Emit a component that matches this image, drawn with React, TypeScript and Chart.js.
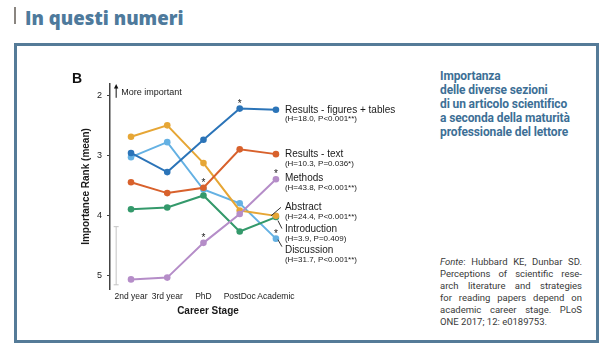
import React, { useEffect, useRef } from "react";
import { Chart, registerables } from "chart.js";

Chart.register(...registerables);

const categories = ["2nd year", "3rd year", "PhD", "PostDoc", "Academic"];
const seriesNames = [
  "Results - figures + tables",
  "Results - text",
  "Methods",
  "Abstract",
  "Introduction",
  "Discussion",
];
const statsLabels = [
  "(H=18.0, P<0.001**)",
  "(H=10.3, P=0.036*)",
  "(H=43.8, P<0.001**)",
  "(H=24.4, P<0.001**)",
  "(H=3.9, P=0.409)",
  "(H=31.7, P<0.001**)",
];
const resultsFigures = [2.95, 3.27, 2.73, 2.21, 2.23];
const resultsText = [3.44, 3.62, 3.53, 2.89, 2.97];
const methods = [5.06, 5.03, 4.45, 3.97, 3.39];
const abstractRank = [2.68, 2.49, 3.12, 3.91, 4.0];
const introduction = [3.89, 3.86, 3.66, 4.26, 4.02];
const discussion = [3.02, 2.77, 3.56, 3.79, 4.38];
const seriesValues = [resultsFigures, resultsText, methods, abstractRank, introduction, discussion];
const seriesColors = ["#2b74b8", "#d8612c", "#b58dc8", "#e6a635", "#34996b", "#64b1e3"];
const yTicks = [2, 3, 4, 5];
// [series, stage] pairs marked with an asterisk
const significant = [[0, 3], [1, 2], [2, 2], [2, 4], [5, 4]];
// rank at which each series label is written next to the Academic column
const labelRanks = [2.23, 2.97, 3.38, 3.85, 4.22, 4.58];
// reference error bar (ranks) and "More important" arrow (ranks)
const errorBarRange = [4.18, 5.15];
const arrowRange = [2.03, 1.8];

const citationLines = [
  "Perceptions of scientific rese-",
  "arch literature and strategies",
  "for reading papers depend on",
  "academic career stage. PLoS",
];

const FONT = '"Liberation Sans", Arial, sans-serif';

const annotPlugin = {
  id: "annot",
  afterDatasetsDraw(chart: any) {
    const ctx = chart.ctx;
    const xs = chart.scales.x;
    const ys = chart.scales.y;
    ctx.save();
    ctx.fillStyle = "#222";
    // asterisks
    ctx.font = `10px ${FONT}`;
    ctx.textAlign = "center";
    ctx.textBaseline = "alphabetic";
    significant.forEach(([s, p]) => {
      const x = xs.getPixelForValue(p);
      const y = ys.getPixelForValue(seriesValues[s][p]);
      ctx.fillText("*", x, y - 2);
    });
    // series labels
    const lx = xs.getPixelForValue(4) + 9;
    ctx.textAlign = "left";
    ctx.textBaseline = "middle";
    seriesNames.forEach((n, i) => {
      const y = ys.getPixelForValue(labelRanks[i]);
      ctx.fillStyle = "#1a1a1a";
      ctx.font = `10px ${FONT}`;
      ctx.fillText(n, lx, y);
      ctx.font = `8px ${FONT}`;
      ctx.fillText(statsLabels[i], lx, y + 9.5);
    });
    // leader lines
    ctx.strokeStyle = "#333";
    ctx.lineWidth = 1;
    const leaders: [number, number, number, number, number][] = [
      [3, -14, 9, -4, 0.5],
      [4, -7, -8.5, -3, -0.5],
      [5, -7, -11, -3, -4],
    ];
    leaders.forEach(([i, x1, y1, x2, y2]) => {
      const y = ys.getPixelForValue(labelRanks[i]);
      ctx.beginPath();
      ctx.moveTo(lx + x1, y + y1);
      ctx.lineTo(lx + x2, y + y2);
      ctx.stroke();
    });
    // error bar
    const ex = xs.getPixelForValue(-0.41);
    const ey1 = ys.getPixelForValue(errorBarRange[0]);
    const ey2 = ys.getPixelForValue(errorBarRange[1]);
    ctx.strokeStyle = "#c4c4c4";
    ctx.beginPath();
    ctx.moveTo(ex, ey1);
    ctx.lineTo(ex, ey2);
    ctx.moveTo(ex - 2.5, ey1);
    ctx.lineTo(ex + 2.5, ey1);
    ctx.moveTo(ex - 2.5, ey2);
    ctx.lineTo(ex + 2.5, ey2);
    ctx.stroke();
    // arrow
    const ay1 = ys.getPixelForValue(arrowRange[0]);
    const ay2 = ys.getPixelForValue(arrowRange[1]);
    ctx.strokeStyle = "#111";
    ctx.fillStyle = "#111";
    ctx.beginPath();
    ctx.moveTo(ex, ay1);
    ctx.lineTo(ex, ay2 + 3);
    ctx.stroke();
    ctx.beginPath();
    ctx.moveTo(ex, ay2);
    ctx.lineTo(ex - 2.2, ay2 + 4.5);
    ctx.lineTo(ex + 2.2, ay2 + 4.5);
    ctx.closePath();
    ctx.fill();
    ctx.font = `9px ${FONT}`;
    ctx.fillStyle = "#1a1a1a";
    ctx.textBaseline = "middle";
    ctx.fillText("More important", ex + 5, ys.getPixelForValue(1.95));
    ctx.restore();
  },
};

export default function App() {
  const ref = useRef<HTMLCanvasElement>(null);
  useEffect(() => {
    if (!ref.current) return;
    Chart.defaults.font.family = FONT;
    const chart = new Chart(ref.current, {
      type: "line",
      data: {
        datasets: seriesValues.map((vals, i) => ({
          label: seriesNames[i],
          data: vals.map((v, j) => ({ x: j, y: v })),
          borderColor: seriesColors[i],
          backgroundColor: seriesColors[i],
          pointBackgroundColor: seriesColors[i],
          pointBorderWidth: 0,
          pointRadius: 3.3,
          borderWidth: 2,
          tension: 0,
          clip: false as any,
        })),
      },
      options: {
        animation: false,
        responsive: false,
        devicePixelRatio: 1,
        layout: { padding: { left: 68, right: 124, top: 84, bottom: 42 } },
        plugins: { legend: { display: false }, tooltip: { enabled: false } },
        scales: {
          x: {
            type: "linear",
            min: -0.58,
            max: 4.83,
            afterBuildTicks: (s: any) => {
              s.ticks = categories.map((_, i) => ({ value: i }));
            },
            afterFit: (s: any) => {
              s.height = 32;
            },
            ticks: {
              autoSkip: false,
              maxRotation: 0,
              padding: 3,
              color: "#1a1a1a",
              font: { size: 8.5 },
              callback: (v: any) => categories[v as number] ?? "",
            },
            grid: { display: false, drawTicks: false },
            border: { display: false },
            title: {
              display: true,
              text: "Career Stage",
              color: "#1a1a1a",
              font: { size: 10, weight: "bold" },
              padding: { top: 4, bottom: 4 },
            },
          },
          y: {
            type: "linear",
            reverse: true,
            min: 1.8,
            max: 5.22,
            afterBuildTicks: (s: any) => {
              s.ticks = yTicks.map((v) => ({ value: v }));
            },
            afterFit: (s: any) => {
              s.width = 42;
            },
            ticks: { padding: 5, color: "#1a1a1a", font: { size: 9 } },
            grid: { drawOnChartArea: false, drawTicks: true, tickLength: 3, color: "#444" },
            border: { display: true, color: "#444", width: 1.5 },
            title: {
              display: true,
              text: "Importance Rank (mean)",
              color: "#1a1a1a",
              font: { size: 10, weight: "bold" },
              padding: { top: 12, bottom: 12 },
            },
          },
        },
      },
      plugins: [annotPlugin],
    });
    return () => chart.destroy();
  }, []);

  return (
    <div
      style={{
        position: "fixed",
        left: 0,
        top: 0,
        width: 616,
        height: 363,
        background: "#fff",
        overflow: "hidden",
      }}
    >
      <div style={{ position: "absolute", left: 14, top: 7, width: 2, height: 17, background: "#8a8580" }} />
      <div
        style={{
          position: "absolute",
          left: 25,
          top: 9,
          fontFamily: '"Open Sans", sans-serif',
          fontWeight: 800,
          fontSize: 18.6,
          lineHeight: "18px",
          color: "#4e7a9c",
          whiteSpace: "nowrap",
        }}
      >
        In questi numeri
      </div>
      <div
        style={{
          position: "absolute",
          left: 14,
          top: 43,
          width: 585,
          height: 300,
          border: "3px solid #557b98",
          boxSizing: "border-box",
        }}
      />
      <canvas ref={ref} width={430} height={363} style={{ position: "absolute", left: 0, top: 0 }} />
      <div
        style={{
          position: "absolute",
          left: 72,
          top: 71,
          fontFamily: FONT,
          fontWeight: 700,
          fontSize: 14,
          lineHeight: "14px",
          color: "#111",
        }}
      >
        B
      </div>
      <div
        style={{
          position: "absolute",
          left: 440,
          top: 69,
          fontFamily: "Roboto, sans-serif",
          fontWeight: 700,
          fontSize: 12,
          lineHeight: "14px",
          letterSpacing: "-0.12px",
          color: "#3d6f96",
          whiteSpace: "nowrap",
        }}
      >
        Importanza
        <br />
        delle diverse sezioni
        <br />
        di un articolo scientifico
        <br />a seconda della maturità
        <br />
        professionale del lettore
      </div>
      <div
        style={{
          position: "absolute",
          left: 440,
          top: 256,
          width: 142,
          fontFamily: "Roboto, sans-serif",
          fontSize: 9.5,
          lineHeight: "12px",
          color: "#3a3a3a",
        }}
      >
        <div style={{ textAlign: "justify", textAlignLast: "justify", whiteSpace: "nowrap" } as any}>
          <i>Fonte</i>: Hubbard KE, Dunbar SD.
        </div>
        {citationLines.map((l) => (
          <div key={l} style={{ textAlign: "justify", textAlignLast: "justify" } as any}>
            {l}
          </div>
        ))}
        <div>ONE 2017; 12: e0189753.</div>
      </div>
    </div>
  );
}
